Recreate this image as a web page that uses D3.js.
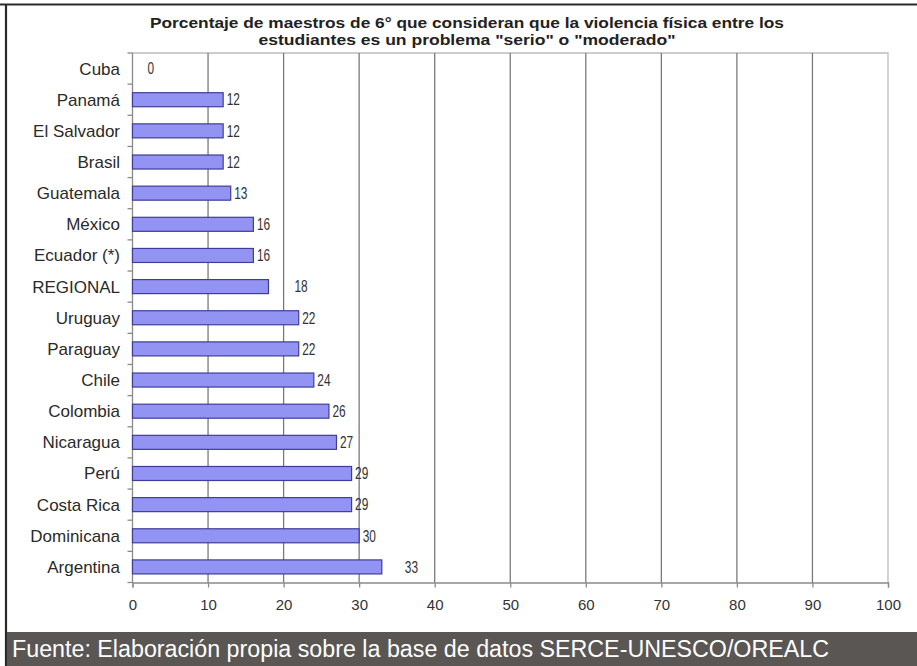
<!DOCTYPE html>
<html>
<head>
<meta charset="utf-8">
<script src="https://cdn.jsdelivr.net/npm/d3@7"></script>
<style>
  html, body { margin: 0; padding: 0; background: #fff; }
  svg { display: block; }
</style>
</head>
<body>
<svg id="chart" width="917" height="666"></svg>
<script>
// Countries, top to bottom
const countries = ["Cuba", "Panamá", "El Salvador", "Brasil", "Guatemala", "México",
  "Ecuador (*)", "REGIONAL", "Uruguay", "Paraguay", "Chile", "Colombia",
  "Nicaragua", "Perú", "Costa Rica", "Dominicana", "Argentina"];
// Percentage of 6th-grade teachers
const percentages = [0, 12, 12, 12, 13, 16, 16, 18, 22, 22, 24, 26, 27, 29, 29, 30, 33];
const xTicks = [0, 10, 20, 30, 40, 50, 60, 70, 80, 90, 100];
const titleLines = [
  "Porcentaje de maestros de 6° que consideran que la violencia física entre los",
  "estudiantes es un problema \"serio\" o \"moderado\""
];
const sourceNote = "Fuente: Elaboración propia sobre la base de datos SERCE-UNESCO/OREALC";

const svg = d3.select("#chart");
const W = 917, H = 666;
const plot = { left: 132.5, right: 888, top: 53, bottom: 582.5 };

// extra spacing of a few value labels that sit away from their bar end
const labelGap = { "Cuba": 15, "REGIONAL": 26, "Argentina": 23 };
// widths that the two title lines are set to
const titleWidths = [634, 417];

const x = d3.scaleLinear().domain([0, 100]).range([plot.left, plot.right]);
const y = d3.scaleBand().domain(countries).range([plot.top, plot.bottom]).paddingInner(0.55).paddingOuter(0.275);

// Outer frame
svg.append("line").attr("x1", 0).attr("x2", W).attr("y1", 4.5).attr("y2", 4.5)
  .attr("stroke", "#2a2a2a").attr("stroke-width", 2.2);
svg.append("line").attr("x1", 6).attr("x2", 6).attr("y1", 4).attr("y2", H)
  .attr("stroke", "#2a2a2a").attr("stroke-width", 2.2);

// Title
svg.append("g").selectAll("text").data(titleLines).join("text")
  .attr("x", 467).attr("y", (d, i) => 28 + i * 17)
  .attr("text-anchor", "middle")
  .attr("textLength", (d, i) => titleWidths[i])
  .attr("lengthAdjust", "spacingAndGlyphs")
  .style("font-family", "'Liberation Sans', Arial, sans-serif")
  .style("font-weight", "bold").style("font-size", "15px").style("fill", "#222")
  .text(d => d);

// Plot frame (top and right edges)
svg.append("path")
  .attr("d", `M${plot.left},${plot.top}H${plot.right}V${plot.bottom}`)
  .attr("fill", "none").attr("stroke", "#bdbdbd").attr("stroke-width", 1.3);

// Vertical gridlines
svg.append("g").selectAll("line").data(xTicks.filter(t => t > 0 && t < 100)).join("line")
  .attr("x1", d => x(d)).attr("x2", d => x(d))
  .attr("y1", plot.top).attr("y2", plot.bottom)
  .attr("stroke", "#7a7a7a").attr("stroke-width", 1.3);

// X axis
const xAxis = svg.append("g")
  .attr("transform", `translate(0,${plot.bottom})`)
  .call(d3.axisBottom(x).tickValues(xTicks).tickSize(5).tickPadding(12));
xAxis.select(".domain").attr("stroke", "#8a8a8a").attr("stroke-width", 1.3);
xAxis.selectAll(".tick line").attr("stroke", "#8a8a8a").attr("stroke-width", 1.3);
xAxis.selectAll("text")
  .style("font-family", "'Liberation Sans', Arial, sans-serif")
  .style("font-size", "15px").style("fill", "#333");

// Y axis line with ticks on category boundaries
const step = y.step();
const boundaries = d3.range(countries.length + 1).map(i => plot.top + i * step);
svg.append("line").attr("x1", plot.left).attr("x2", plot.left)
  .attr("y1", plot.top).attr("y2", plot.bottom)
  .attr("stroke", "#8a8a8a").attr("stroke-width", 1.3);
svg.append("g").selectAll("line").data(boundaries).join("line")
  .attr("x1", plot.left - 5).attr("x2", plot.left)
  .attr("y1", d => d).attr("y2", d => d)
  .attr("stroke", "#8a8a8a").attr("stroke-width", 1.3);

// Category labels
svg.append("g").selectAll("text").data(countries).join("text")
  .attr("x", 120)
  .attr("y", d => y(d) + y.bandwidth() / 2)
  .attr("dy", "0.35em")
  .attr("text-anchor", "end")
  .style("font-family", "'Liberation Sans', Arial, sans-serif")
  .style("font-size", "17px").style("fill", "#2a2a2a")
  .text(d => d);

// Bars
const rows = countries.map((c, i) => ({ country: c, value: percentages[i] }));
svg.append("g").selectAll("rect").data(rows.filter(d => d.value > 0)).join("rect")
  .attr("x", x(0))
  .attr("y", d => y(d.country))
  .attr("width", d => x(d.value) - x(0))
  .attr("height", y.bandwidth())
  .attr("fill", "#9393f3")
  .attr("stroke", "#3e3e96")
  .attr("stroke-width", 1.2);

// Value labels, set in condensed figures
svg.append("g").selectAll("text").data(rows).join("text")
  .attr("x", d => x(d.value) + (labelGap[d.country] || 3.5))
  .attr("y", d => y(d.country) + y.bandwidth() / 2)
  .attr("dy", "0.36em")
  .attr("textLength", d => String(d.value).length * 6.6)
  .attr("lengthAdjust", "spacingAndGlyphs")
  .style("font-family", "'Liberation Sans', Arial, sans-serif")
  .style("font-size", "16px").style("fill", "#333")
  .text(d => d.value);

// Source band
svg.append("rect").attr("x", 7).attr("y", 632).attr("width", W - 7).attr("height", H - 632)
  .attr("fill", "#5a5654");
svg.append("text")
  .attr("x", 12).attr("y", 657)
  .attr("textLength", 817)
  .attr("lengthAdjust", "spacingAndGlyphs")
  .style("font-family", "'Liberation Sans', Arial, sans-serif")
  .style("font-size", "23px").style("fill", "#ffffff")
  .text(sourceNote);
</script>
</body>
</html>
